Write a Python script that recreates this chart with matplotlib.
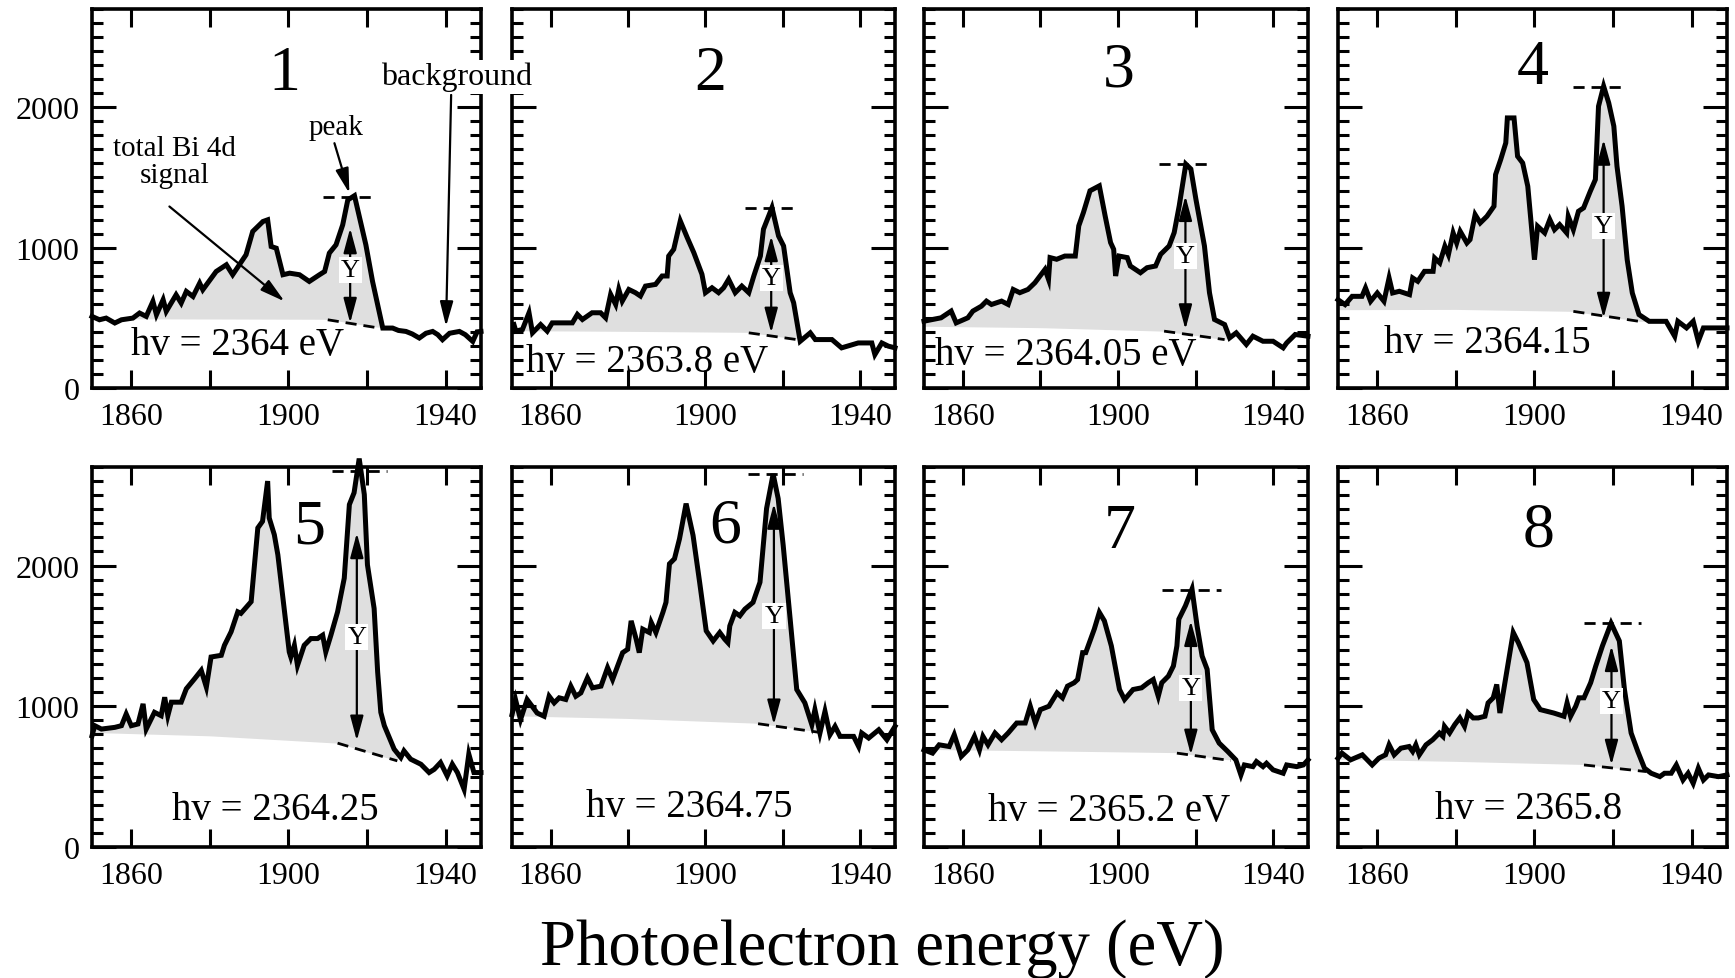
import numpy as np
import matplotlib
matplotlib.use("Agg")
import matplotlib.pyplot as plt
from matplotlib.ticker import MultipleLocator, NullLocator

plt.rcParams['font.family'] = ['Liberation Serif', 'DejaVu Serif']

# ---------------- data ----------------
p1_e = [1850.0, 1851.9, 1853.6, 1855.8, 1857.5, 1860.4, 1862.1, 1863.8, 1865.5, 1866.4, 1868.1, 1868.9, 1871.4,
        1872.7, 1874.0, 1875.7, 1877.4, 1878.2, 1881.6, 1884.2, 1885.8, 1889.2, 1890.9, 1893.5, 1894.7, 1895.6,
        1896.9, 1898.6, 1900.3, 1902.8, 1905.3, 1907.9, 1909.2, 1910.4, 1912.1, 1913.8, 1915.1, 1916.8, 1919.7,
        1921.4, 1924.0, 1926.5, 1928.0, 1929.9, 1931.5, 1933.3, 1935.0, 1936.7, 1938.0, 1939.2, 1941.0, 1943.5,
        1945.0, 1946.9, 1948.0, 1949.0]
p1_i = [510, 486, 498, 463, 486, 498, 534, 510, 617, 522, 629, 546, 664, 605, 688, 652, 747, 700, 830, 878, 807,
        949, 1115, 1186, 1198, 1008, 996, 807, 818, 807, 759, 807, 830, 961, 1020, 1162, 1340, 1370, 1020, 759,
        427, 427, 410, 403, 385, 356, 390, 403, 380, 344, 390, 403, 380, 332, 400, 403]

p2_e = [1850.5, 1851.0, 1852.7, 1854.4, 1855.3, 1857.4, 1859.1, 1860.4, 1865.6, 1866.9, 1868.2, 1870.7, 1872.9,
        1874.2, 1875.5, 1876.8, 1877.6, 1878.5, 1880.2, 1881.9, 1883.2, 1884.5, 1887.1, 1888.8, 1890.1, 1890.5,
        1891.8, 1893.5, 1895.3, 1897.0, 1899.1, 1900.0, 1901.7, 1903.4, 1904.7, 1906.0, 1907.7, 1909.4, 1911.2,
        1912.5, 1914.2, 1915.0, 1917.2, 1918.9, 1920.2, 1921.9, 1922.8, 1924.5, 1927.1, 1928.4, 1932.7, 1935.2,
        1939.5, 1943.0, 1943.8, 1945.6, 1947.3, 1949.0]
p2_i = [452, 405, 417, 536, 393, 452, 405, 464, 464, 524, 488, 536, 536, 500, 667, 595, 702, 619, 702, 679, 655,
        726, 738, 798, 798, 940, 988, 1190, 1071, 964, 810, 679, 714, 679, 714, 774, 679, 726, 679, 798, 940,
        1131, 1285, 1083, 1012, 679, 607, 333, 393, 345, 345, 286, 321, 321, 238, 321, 298, 286]

p3_e = [1850.0, 1854.4, 1857.0, 1858.3, 1861.3, 1862.6, 1864.8, 1866.1, 1867.4, 1870.0, 1871.7, 1873.0, 1874.7,
        1876.8, 1878.6, 1881.2, 1882.1, 1882.5, 1884.2, 1886.3, 1889.0, 1889.9, 1891.1, 1892.8, 1895.2, 1896.7,
        1898.1, 1898.9, 1899.4, 1900.3, 1902.4, 1903.2, 1905.8, 1907.5, 1909.7, 1911.0, 1913.2, 1914.5, 1915.8,
        1917.5, 1918.8, 1920.1, 1922.3, 1923.6, 1924.9, 1927.5, 1928.8, 1930.5, 1933.1, 1934.8, 1937.4, 1940.0,
        1942.6, 1943.5, 1945.7, 1949.0]
p3_i = [476, 500, 548, 464, 500, 548, 583, 619, 595, 619, 595, 702, 679, 702, 750, 845, 774, 929, 917, 940, 940,
        1155, 1250, 1405, 1440, 1226, 1036, 988, 798, 940, 929, 869, 821, 857, 869, 952, 1012, 1107, 1298, 1595,
        1560, 1345, 1012, 679, 488, 452, 357, 393, 310, 369, 333, 333, 286, 321, 381, 369]

p4_e = [1850.0, 1851.8, 1853.6, 1856.1, 1857.0, 1858.3, 1860.0, 1861.7, 1863.0, 1863.9, 1865.6, 1868.2, 1869.0,
        1870.3, 1872.0, 1874.2, 1874.6, 1875.9, 1877.2, 1878.1, 1879.3, 1880.2, 1881.1, 1882.8, 1883.6, 1884.9,
        1886.2, 1887.9, 1889.7, 1890.1, 1891.4, 1892.7, 1893.1, 1894.8, 1895.7, 1897.0, 1898.3, 1900.0, 1900.8,
        1902.6, 1903.9, 1905.1, 1906.4, 1908.2, 1908.6, 1909.9, 1911.2, 1912.5, 1914.2, 1915.5, 1916.3, 1917.6,
        1918.9, 1920.2, 1921.0, 1922.3, 1923.6, 1924.9, 1926.6, 1929.2, 1931.8, 1933.5, 1935.7, 1936.5, 1938.7,
        1940.4, 1941.7, 1943.0, 1945.6, 1949.0]
p4_i = [629, 594, 653, 653, 713, 618, 677, 618, 784, 677, 689, 665, 784, 760, 831, 831, 926, 891, 1010, 950, 1105,
        1033, 1116, 1033, 1057, 1235, 1176, 1223, 1295, 1520, 1627, 1746, 1924, 1924, 1651, 1603, 1437, 914, 1152,
        1105, 1200, 1128, 1164, 1105, 1223, 1128, 1259, 1283, 1401, 1485, 2007, 2150, 2031, 1865, 1580, 1295, 914,
        677, 523, 475, 475, 475, 368, 475, 428, 475, 333, 428, 428, 428]

p5_e = [1850.0, 1850.7, 1852.4, 1855.8, 1857.5, 1858.7, 1860.0, 1861.7, 1863.0, 1863.8, 1865.9, 1867.6, 1868.5,
        1869.3, 1870.2, 1872.7, 1874.0, 1876.1, 1877.8, 1879.1, 1880.3, 1882.9, 1883.7, 1885.4, 1887.1, 1887.9,
        1890.5, 1892.2, 1893.4, 1894.7, 1895.1, 1896.4, 1897.3, 1900.2, 1900.6, 1901.5, 1902.3, 1904.0, 1905.7,
        1907.4, 1908.7, 1909.5, 1910.8, 1912.5, 1914.2, 1915.5, 1916.7, 1918.0, 1919.3, 1920.1, 1921.8, 1922.7,
        1923.5, 1924.4, 1926.9, 1928.6, 1929.4, 1931.1, 1933.7, 1935.8, 1937.1, 1938.7, 1940.4, 1941.7, 1943.0,
        1944.7, 1945.9, 1947.2, 1949.0]
p5_i = [790, 862, 838, 850, 862, 945, 862, 874, 1017, 838, 957, 933, 1064, 933, 1029, 1029, 1124, 1195, 1255, 1136,
        1350, 1362, 1433, 1529, 1671, 1660, 1743, 2267, 2314, 2600, 2338, 2219, 2076, 1386, 1350, 1433, 1290, 1433,
        1481, 1481, 1505, 1386, 1505, 1671, 1910, 2433, 2517, 2760, 2505, 2005, 1695, 1243, 957, 862, 695, 636,
        683, 624, 588, 529, 552, 600, 505, 588, 529, 410, 660, 529, 529]

p6_e = [1850.0, 1850.9, 1852.2, 1853.9, 1856.5, 1858.3, 1859.6, 1860.9, 1862.2, 1863.9, 1865.2, 1866.5, 1867.8,
        1869.5, 1870.8, 1873.0, 1874.7, 1876.0, 1877.3, 1878.6, 1879.9, 1880.8, 1882.1, 1882.9, 1883.8, 1885.5,
        1886.0, 1887.2, 1889.0, 1889.8, 1890.7, 1892.0, 1893.3, 1895.0, 1896.8, 1898.5, 1900.2, 1902.0, 1903.7,
        1905.0, 1905.8, 1906.3, 1907.6, 1908.9, 1910.2, 1912.3, 1914.1, 1915.8, 1917.5, 1918.8, 1920.1, 1921.9,
        1923.6, 1925.7, 1927.5, 1928.3, 1929.6, 1930.9, 1932.2, 1933.5, 1934.8, 1938.3, 1939.6, 1940.4, 1942.2,
        1944.8, 1946.9, 1949.0]
p6_i = [940, 1048, 905, 1048, 952, 929, 1071, 1024, 1060, 1048, 1143, 1071, 1095, 1202, 1131, 1143, 1274, 1190,
        1286, 1381, 1405, 1607, 1476, 1381, 1548, 1524, 1595, 1524, 1667, 1738, 2012, 2048, 2190, 2440, 2214, 1881,
        1536, 1464, 1524, 1476, 1452, 1571, 1667, 1643, 1690, 1738, 1881, 2405, 2650, 2476, 2143, 1619, 1119, 1024,
        869, 976, 810, 964, 798, 857, 786, 786, 714, 810, 774, 833, 762, 857]

p7_e = [1850.0, 1852.2, 1853.9, 1856.5, 1857.8, 1859.6, 1861.3, 1863.0, 1864.3, 1865.2, 1866.5, 1868.3, 1870.0,
        1871.7, 1873.9, 1876.1, 1877.4, 1878.7, 1880.0, 1882.2, 1884.3, 1885.7, 1887.0, 1888.7, 1889.6, 1890.9,
        1891.7, 1893.9, 1895.2, 1896.5, 1898.3, 1900.4, 1901.7, 1903.9, 1906.1, 1907.8, 1909.1, 1910.4, 1911.3,
        1913.0, 1914.3, 1915.2, 1915.7, 1917.4, 1919.1, 1920.4, 1921.7, 1923.0, 1924.3, 1926.1, 1928.3, 1930.4,
        1931.7, 1932.6, 1934.8, 1935.7, 1937.4, 1938.3, 1940.0, 1942.6, 1943.5, 1946.1, 1947.8, 1949.0]
p7_i = [690, 667, 726, 714, 798, 643, 690, 786, 690, 786, 726, 810, 762, 810, 881, 881, 1000, 881, 976, 1000, 1095,
        1060, 1143, 1167, 1190, 1381, 1381, 1548, 1667, 1607, 1429, 1119, 1048, 1119, 1131, 1167, 1190, 1071, 1167,
        1214, 1286, 1429, 1619, 1714, 1833, 1571, 1357, 1262, 833, 738, 679, 619, 512, 583, 571, 607, 571, 595,
        548, 524, 583, 571, 583, 619]

p8_e = [1850.0, 1851.0, 1853.2, 1856.2, 1858.7, 1860.4, 1862.1, 1863.0, 1864.3, 1866.0, 1868.1, 1869.0, 1869.8,
        1870.7, 1872.4, 1874.1, 1875.8, 1876.7, 1877.1, 1878.4, 1879.7, 1881.0, 1882.2, 1883.1, 1884.4, 1885.7,
        1887.4, 1888.2, 1889.5, 1890.4, 1891.2, 1892.9, 1894.6, 1895.9, 1898.1, 1899.8, 1901.5, 1904.9, 1907.5,
        1908.3, 1909.2, 1910.5, 1911.3, 1912.6, 1914.3, 1915.6, 1917.3, 1919.5, 1921.6, 1922.9, 1924.6, 1926.3,
        1928.0, 1929.7, 1931.9, 1933.1, 1934.8, 1936.1, 1937.8, 1939.1, 1940.4, 1941.7, 1943.0, 1944.3, 1946.8,
        1949.0]
p8_i = [631, 667, 619, 655, 583, 631, 655, 726, 655, 702, 714, 679, 726, 655, 726, 762, 810, 786, 857, 810, 869,
        917, 857, 952, 917, 917, 929, 1024, 1060, 1155, 952, 1238, 1524, 1452, 1310, 1048, 976, 952, 929, 1024,
        929, 1000, 1060, 1060, 1167, 1286, 1429, 1590, 1464, 1119, 810, 679, 560, 524, 500, 524, 524, 583, 476,
        524, 452, 560, 476, 512, 500, 512]

energies = [p1_e, p2_e, p3_e, p4_e, p5_e, p6_e, p7_e, p8_e]
intensities = [p1_i, p2_i, p3_i, p4_i, p5_i, p6_i, p7_i, p8_i]

panel_numbers = ["1", "2", "3", "4", "5", "6", "7", "8"]
hv_labels = ["hv = 2364 eV", "hv = 2363.8 eV", "hv = 2364.05 eV", "hv = 2364.15",
             "hv = 2364.25", "hv = 2364.75", "hv = 2365.2 eV", "hv = 2365.8"]

# background (baseline) knots
bg_left = [490, 405, 440, 558, 814, 929, 690, 620]
bg_mid = [488, 400, 430, 560, 790, 910, 680, 605]
bg_e0 = [1910.0, 1911.2, 1911.9, 1909.9, 1912.5, 1913.6, 1915.2, 1912.6]
bg_v0 = [486, 393, 405, 546, 738, 876, 667, 583]
bg_e1 = [1923.1, 1923.6, 1927.5, 1926.6, 1927.7, 1929.6, 1929.1, 1928.4]
bg_v1 = [427, 345, 345, 475, 612, 814, 614, 536]

# peak level and Y arrows
peak_level = [1359, 1281, 1595, 2145, 2671, 2650, 1829, 1590]
peak_lo = [1908.7, 1910.3, 1910.6, 1909.9, 1911.2, 1911.0, 1911.3, 1912.6]
peak_hi = [1921.4, 1923.2, 1923.6, 1923.2, 1925.2, 1925.3, 1926.5, 1927.2]
arrow_x = [1915.7, 1917.0, 1917.4, 1917.6, 1917.4, 1917.7, 1918.8, 1919.6]
arrow_top = [1139, 1083, 1369, 1770, 2231, 2440, 1607, 1429]
arrow_bot = [463, 393, 417, 499, 755, 869, 655, 583]
ylab_y = [842, 786, 940, 1152, 1493, 1643, 1131, 1036]

# text positions
num_x = [1899, 1901.3, 1900.2, 1899.6, 1905.3, 1905, 1900.4, 1901]
num_y = [2240, 2238, 2262, 2280, 2267, 2274, 2238, 2250]
hv_x = [1887.1, 1884.9, 1886.6, 1887.9, 1896.6, 1895.9, 1897.6, 1898.5]
hv_y = [308, 190, 238, 321, 267, 286, 262, 274]

x_ticks = [1860, 1880, 1900, 1920, 1940]
x_ticklabels = ["1860", "", "1900", "", "1940"]
y_ticks = [0, 1000, 2000]

# ---------------- figure ----------------
W, H = 1735, 979
fig = plt.figure(figsize=(W / 100, H / 100), dpi=100)

cols = [(92, 481), (512, 895), (924, 1308), (1338, 1727)]
rows = [(10, 389), (468, 848)]

axes = []
for r in range(2):
    for c in range(4):
        l, rr = cols[c]
        t, b = rows[r]
        ax = fig.add_axes([l / W, 1 - b / H, (rr - l) / W, (b - t) / H])
        axes.append(ax)

dash = (0, (4, 2.5))
for k, ax in enumerate(axes):
    e = np.array(energies[k], dtype=float)
    v = np.array(intensities[k], dtype=float)
    ke = [1850, 1880, bg_e0[k], bg_e1[k]]
    kv = [bg_left[k], bg_mid[k], bg_v0[k], bg_v1[k]]
    base = np.interp(e, ke, kv)
    ax.fill_between(e, v, base, where=(v > base) & (e <= bg_e1[k]), interpolate=True,
                    color='#dfdfdf', lw=0, zorder=1)
    ax.plot(e, v, color='black', lw=3.6, solid_joinstyle='miter', zorder=3, clip_on=False)
    ax.plot([bg_e0[k], bg_e1[k]], [bg_v0[k], bg_v1[k]], color='black', lw=2.0, ls=dash, zorder=3)
    ax.plot([peak_lo[k], peak_hi[k]], [peak_level[k], peak_level[k]], color='black', lw=2.0,
            ls=dash, zorder=3)
    ax.annotate('', xy=(arrow_x[k], arrow_top[k]), xytext=(arrow_x[k], arrow_bot[k]),
                arrowprops=dict(arrowstyle='<|-|>,head_length=0.75,head_width=0.2', lw=1.6,
                                color='black', shrinkA=0, shrinkB=0, mutation_scale=20),
                zorder=4)
    ax.text(arrow_x[k], ylab_y[k], 'Y', ha='center', va='center', fontsize=19, zorder=5,
            bbox=dict(fc='white', ec='none', pad=1.5))
    ax.text(num_x[k], num_y[k], panel_numbers[k], ha='center', va='center', fontsize=46, zorder=5)
    ax.text(hv_x[k], hv_y[k], hv_labels[k], ha='center', va='center', fontsize=28, zorder=5)

    ax.set_xlim(1850, 1949)
    ax.set_ylim(0, 2700)
    ax.set_xticks(x_ticks)
    ax.set_xticklabels(x_ticklabels)
    ax.xaxis.set_minor_locator(NullLocator())
    ax.set_yticks(y_ticks)
    ax.yaxis.set_minor_locator(MultipleLocator(100))
    ax.tick_params(which='both', direction='in', top=True, right=True, width=2.2,
                   labelsize=23, color='black')
    ax.tick_params(axis='x', which='major', length=13, pad=10)
    ax.tick_params(axis='y', which='major', length=17, pad=9)
    ax.tick_params(axis='y', which='minor', length=8)
    if k % 4 != 0:
        ax.tick_params(axis='y', labelleft=False)
    for s in ax.spines.values():
        s.set_linewidth(2.6)

# annotations in panel 1
ax1 = axes[0]
arr = dict(arrowstyle='-|>,head_length=0.75,head_width=0.2', lw=1.6, color='black',
           shrinkA=0, shrinkB=0, mutation_scale=20)
ax1.text(1871.0, 1613, 'total Bi 4d\nsignal', ha='center', va='center', fontsize=21,
         linespacing=1.05, zorder=5)
ax1.annotate('', xy=(1899.0, 617), xytext=(1869.7, 1293), arrowprops=arr, zorder=4)
ax1.text(1912.0, 1862, 'peak', ha='center', va='center', fontsize=21, zorder=5)
ax1.annotate('', xy=(1915.5, 1388), xytext=(1911.7, 1744), arrowprops=arr, zorder=4)
ax1.annotate('', xy=(1940.1, 439), xytext=(1941.4, 2088), arrowprops=arr, zorder=4)
fig.text(1923.6, 2218, 'background', transform=ax1.transData, ha='left', va='center',
         fontsize=23, zorder=10, bbox=dict(fc='white', ec='none', pad=1.5))

fig.text(882 / W, 1 - 965 / H, 'Photoelectron energy (eV)', ha='center', va='baseline', fontsize=46.5)

fig.savefig('out.png', dpi=100)
